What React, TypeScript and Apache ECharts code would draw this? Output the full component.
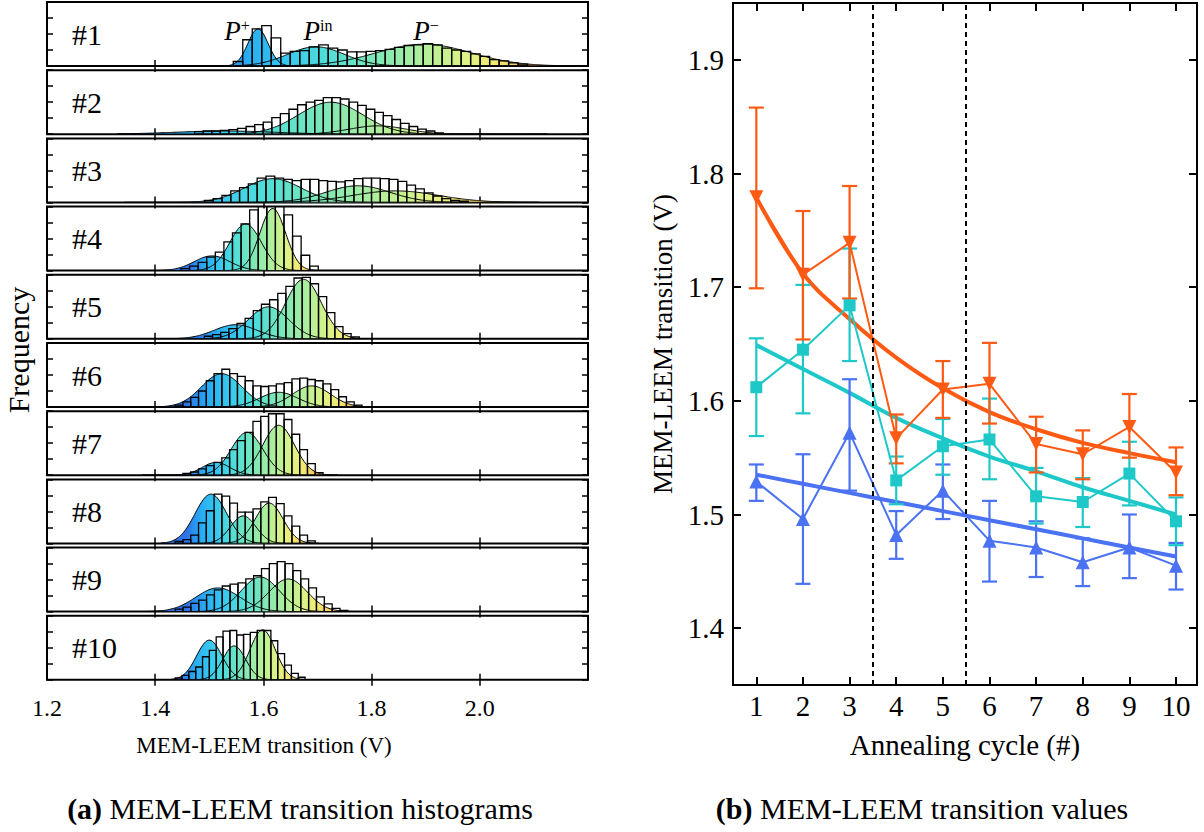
import React, { useEffect, useRef } from 'react';
import * as echarts from 'echarts';

const FONT = '"Liberation Serif", "Times New Roman", serif';
const BLACK = '#000';

// ---------------- (a) histogram panels ----------------
const panelNames = ['#1', '#2', '#3', '#4', '#5', '#6', '#7', '#8', '#9', '#10'];
const xTickValues = [1.4, 1.6, 1.8, 2.0];
const xLabelValues = [1.2, 1.4, 1.6, 1.8, 2.0];

// bin start (V) and bin width (V) for each panel, read against the bottom axis
const binStarts = [1.5443, 1.4728, 1.4909, 1.4477, 1.4909, 1.4369, 1.4512, 1.4369, 1.4369, 1.4369];
const binWidths = [0.01755, 0.01586, 0.01626, 0.01586, 0.01507, 0.01439, 0.01439, 0.01439, 0.01451, 0.01264];

// bin heights (fraction of panel height)
const hist1 = [0.07, 0.41, 0.58, 0.63, 0.44, 0.2, 0.23, 0.24, 0.3, 0.33, 0.28, 0.25, 0.22, 0.22, 0.23, 0.24, 0.26, 0.29, 0.32, 0.33, 0.35, 0.33, 0.28, 0.25, 0.23, 0.19, 0.15, 0.1, 0.08, 0.05, 0.03];
const hist2 = [0.04, 0.05, 0.05, 0.06, 0.07, 0.09, 0.12, 0.15, 0.19, 0.26, 0.32, 0.39, 0.46, 0.5, 0.53, 0.57, 0.57, 0.55, 0.5, 0.45, 0.39, 0.34, 0.29, 0.23, 0.17, 0.12, 0.08, 0.05, 0.02];
const hist3 = [0.03, 0.06, 0.11, 0.18, 0.23, 0.29, 0.38, 0.41, 0.38, 0.36, 0.34, 0.36, 0.36, 0.34, 0.33, 0.32, 0.34, 0.37, 0.38, 0.38, 0.37, 0.36, 0.33, 0.27, 0.21, 0.15, 0.1, 0.06, 0.03, 0.02];
const hist4 = [0.03, 0.07, 0.13, 0.21, 0.29, 0.45, 0.59, 0.73, 0.95, 1.1, 1.1, 1.05, 0.87, 0.54, 0.24, 0.07];
const hist5 = [0.04, 0.065, 0.1, 0.16, 0.24, 0.32, 0.44, 0.54, 0.61, 0.71, 0.82, 0.95, 0.96, 0.86, 0.66, 0.41, 0.19, 0.08, 0.03];
const hist6 = [0.03, 0.08, 0.15, 0.25, 0.41, 0.52, 0.59, 0.52, 0.48, 0.41, 0.33, 0.32, 0.33, 0.36, 0.38, 0.44, 0.45, 0.43, 0.41, 0.36, 0.27, 0.16, 0.08, 0.03];
const hist7 = [0.03, 0.05, 0.1, 0.15, 0.2, 0.27, 0.4, 0.54, 0.67, 0.84, 0.92, 0.96, 0.96, 0.87, 0.64, 0.4, 0.18, 0.04];
const hist8 = [0.03, 0.06, 0.13, 0.32, 0.51, 0.77, 0.74, 0.63, 0.49, 0.49, 0.54, 0.65, 0.72, 0.62, 0.43, 0.27, 0.13, 0.04];
const hist9 = [0.04, 0.07, 0.13, 0.18, 0.26, 0.34, 0.4, 0.43, 0.45, 0.51, 0.56, 0.67, 0.75, 0.78, 0.75, 0.64, 0.51, 0.37, 0.23, 0.12, 0.05, 0.02];
const hist10 = [0.03, 0.07, 0.13, 0.2, 0.36, 0.46, 0.67, 0.76, 0.77, 0.7, 0.71, 0.74, 0.77, 0.77, 0.61, 0.41, 0.23, 0.1, 0.04];
const histograms = [hist1, hist2, hist3, hist4, hist5, hist6, hist7, hist8, hist9, hist10];

// fitted gaussian components: [centre (V), sigma (V), amplitude]
const fit1 = [[1.59, 0.0187, 0.58], [1.6973, 0.0527, 0.3], [1.8962, 0.0878, 0.34]];
const fit2 = [[1.5287, 0.0925, 0.05], [1.7244, 0.0595, 0.5], [1.8116, 0.0529, 0.13]];
const fit3 = [[1.6173, 0.0529, 0.37], [1.7746, 0.0595, 0.26], [1.8446, 0.0793, 0.18]];
const fit4 = [[1.5049, 0.033, 0.23], [1.5671, 0.0291, 0.73], [1.6173, 0.0238, 0.97]];
const fit5 = [[1.5486, 0.0397, 0.22], [1.6094, 0.037, 0.5], [1.6741, 0.033, 0.93]];
const fit6 = [[1.5229, 0.0374, 0.52], [1.6282, 0.0351, 0.23], [1.6891, 0.0351, 0.33]];
const fit7 = [[1.5124, 0.0257, 0.2], [1.5697, 0.0293, 0.67], [1.6282, 0.0293, 0.78]];
const fit8 = [[1.503, 0.0293, 0.77], [1.5627, 0.0234, 0.43], [1.6107, 0.0257, 0.63]];
const fit9 = [[1.5159, 0.041, 0.37], [1.5943, 0.0351, 0.54], [1.6458, 0.0351, 0.51]];
const fit10 = [[1.5, 0.0234, 0.62], [1.546, 0.0211, 0.53], [1.5986, 0.0234, 0.78]];
const fits = [fit1, fit2, fit3, fit4, fit5, fit6, fit7, fit8, fit9, fit10];
const fitRanges = [[1.4691, 2.1711], [1.3305, 2.1236], [1.3437, 2.1104], [1.3701, 1.7138], [1.4098, 1.8195], [1.3053, 1.8201], [1.3755, 1.7382], [1.4106, 1.7031], [1.3872, 1.7733], [1.3872, 1.7031]];

// ---------------- (b) transition values ----------------
const cycles = [1, 2, 3, 4, 5, 6, 7, 8, 9, 10];
const rightYTicks = [1.4, 1.5, 1.6, 1.7, 1.8, 1.9];
const dividers = [3.5, 5.5];
const pMinus = [1.779, 1.711, 1.739, 1.567, 1.61, 1.615, 1.562, 1.553, 1.577, 1.537];
const pMinusLo = [1.699, 1.654, 1.69, 1.545, 1.585, 1.58, 1.537, 1.531, 1.55, 1.517];
const pMinusHi = [1.858, 1.767, 1.789, 1.588, 1.635, 1.651, 1.586, 1.574, 1.606, 1.559];
const pMinusFit = [1.779, 1.712, 1.672, 1.638, 1.611, 1.59, 1.575, 1.563, 1.554, 1.546];
const pIn = [1.612, 1.645, 1.684, 1.53, 1.56, 1.566, 1.516, 1.511, 1.536, 1.494];
const pInLo = [1.569, 1.589, 1.635, 1.509, 1.535, 1.531, 1.492, 1.489, 1.508, 1.473];
const pInHi = [1.655, 1.702, 1.734, 1.551, 1.584, 1.602, 1.541, 1.532, 1.564, 1.515];
const pInFit = [1.649, 1.628, 1.607, 1.585, 1.567, 1.551, 1.538, 1.524, 1.512, 1.5];
const pPlus = [1.529, 1.496, 1.572, 1.482, 1.521, 1.477, 1.471, 1.458, 1.471, 1.455];
const pPlusLo = [1.512, 1.439, 1.521, 1.461, 1.496, 1.441, 1.445, 1.437, 1.444, 1.434];
const pPlusHi = [1.544, 1.553, 1.619, 1.503, 1.544, 1.512, 1.494, 1.479, 1.5, 1.475];
const pPlusFit = [1.535, 1.527, 1.519, 1.511, 1.503, 1.495, 1.487, 1.479, 1.471, 1.463];

// ---------------- styles / layout ----------------
const ORANGE = '#ff5a14';
const CYAN = '#1ec8c8';
const BLUE = '#4a72f2';
const fillStops = [
  [0.0, '#2f72e6'], [0.06, '#2a92f0'], [0.12, '#28aef2'], [0.22, '#36c6f0'], [0.32, '#4cdcdc'],
  [0.42, '#6ae4c4'], [0.52, '#90eaac'], [0.62, '#b6f098'], [0.72, '#dcf286'], [0.8, '#f2ea74'],
  [0.88, '#f4c65a'], [0.95, '#f29642'], [1.0, '#ee6c32'],
];
const colorRanges = [[1.4925, 2.1594], [1.3437, 2.1236], [1.3437, 2.1104], [1.4626, 1.7138], [1.4759, 1.8195], [1.4574, 1.8084], [1.4574, 1.7265], [1.4574, 1.7031], [1.4574, 1.7616], [1.4457, 1.6914]];
const LEFT_X = 47, LEFT_W = 541, TOP0 = 2, PITCH = 68.2, PH = 64;
const R_LEFT = 733, R_TOP = 3, R_W = 464, R_H = 682;

function gaussRender(range: number[], cRange: number[], mode: 'fill' | 'line') {
  return (params: any, api: any) => {
    const mu = api.value(0), sd = api.value(1), amp = api.value(2);
    const pts: number[][] = [];
    const n = Math.round((range[1] - range[0]) / 0.002);
    for (let k = 0; k <= n; k++) {
      const x = range[0] + k * 0.002;
      const y = amp * Math.exp(-((x - mu) * (x - mu)) / (2 * sd * sd));
      pts.push(api.coord([x, y]));
    }
    if (mode === 'fill') {
      const b0 = api.coord([range[0], 0]);
      const b1 = api.coord([range[1], 0]);
      const c0 = api.coord([cRange[0], 0])[0];
      const c1 = api.coord([cRange[1], 0])[0];
      const grad = new echarts.graphic.LinearGradient(c0, 0, c1, 0,
        fillStops.map(([o, c]) => ({ offset: o as number, color: c as string })), true);
      return { type: 'polygon', shape: { points: [b0, ...pts, b1] }, style: { fill: grad, stroke: null } };
    }
    return { type: 'polyline', shape: { points: pts }, style: { stroke: BLACK, lineWidth: 1, fill: null } };
  };
}

function barRender(params: any, api: any) {
  const p0 = api.coord([api.value(0), api.value(2)]);
  const p1 = api.coord([api.value(1), 0]);
  return {
    type: 'rect',
    shape: { x: p0[0], y: p0[1], width: p1[0] - p0[0], height: p1[1] - p0[1] },
    style: { fill: 'rgba(255,255,255,0)', stroke: BLACK, lineWidth: 1.3 },
  };
}

function errRender(color: string) {
  return (params: any, api: any) => {
    const x = api.value(0);
    const lo = api.coord([x, api.value(1)]);
    const hi = api.coord([x, api.value(2)]);
    const cw = 7.5;
    const st = { stroke: color, lineWidth: 2.2 };
    return {
      type: 'group',
      children: [
        { type: 'line', shape: { x1: lo[0], y1: lo[1], x2: hi[0], y2: hi[1] }, style: st },
        { type: 'line', shape: { x1: lo[0] - cw, y1: lo[1], x2: lo[0] + cw, y2: lo[1] }, style: st },
        { type: 'line', shape: { x1: hi[0] - cw, y1: hi[1], x2: hi[0] + cw, y2: hi[1] }, style: st },
      ],
    };
  };
}

function buildOption() {
  const grids: any[] = [];
  const xAxes: any[] = [];
  const yAxes: any[] = [];
  const series: any[] = [];
  const graphics: any[] = [];
  const tickStyle = { color: BLACK, width: 1.5 };

  for (let i = 0; i < 10; i++) {
    const top = TOP0 + i * PITCH;
    grids.push({ left: LEFT_X, top, width: LEFT_W, height: PH, show: true, borderColor: BLACK, borderWidth: 2, backgroundColor: 'rgba(0,0,0,0)', containLabel: false, outerBoundsMode: 'none' });
    xAxes.push({
      type: 'value', gridIndex: i, min: 1.2, max: 2.2, position: 'bottom',
      axisLine: { show: false }, splitLine: { show: false },
      axisTick: { show: true, inside: true, length: 6, lineStyle: tickStyle, customValues: xTickValues },
      axisLabel: { show: i === 9, customValues: xLabelValues, formatter: (v: number) => v.toFixed(1), color: BLACK, fontFamily: FONT, fontSize: 24, margin: 16 },
    });
    xAxes.push({
      type: 'value', gridIndex: i, min: 1.2, max: 2.2, position: 'top',
      axisLine: { show: false }, splitLine: { show: false }, axisLabel: { show: false },
      axisTick: { show: true, inside: true, length: 6, lineStyle: tickStyle, customValues: xTickValues },
    });
    for (const pos of ['left', 'right']) {
      yAxes.push({
        type: 'value', gridIndex: i, min: 0, max: 1, interval: 0.25, position: pos,
        axisLine: { show: false }, splitLine: { show: false }, axisLabel: { show: false },
        axisTick: { show: true, inside: true, length: 6, lineStyle: tickStyle },
      });
    }
    const bins = histograms[i].map((h, k) => [binStarts[i] + k * binWidths[i], binStarts[i] + (k + 1) * binWidths[i], h]);
    series.push({
      type: 'custom', name: 'fill' + i, xAxisIndex: 2 * i, yAxisIndex: 2 * i, z: 1, clip: true,
      renderItem: gaussRender(fitRanges[i], colorRanges[i], 'fill'), data: fits[i], encode: { x: 0, y: 2 }, silent: true,
    });
    series.push({
      type: 'custom', name: 'hist' + i, xAxisIndex: 2 * i, yAxisIndex: 2 * i, z: 3, clip: true,
      renderItem: barRender, data: bins, encode: { x: [0, 1], y: 2 }, silent: true,
    });
    series.push({
      type: 'custom', name: 'curve' + i, xAxisIndex: 2 * i, yAxisIndex: 2 * i, z: 4, clip: true,
      renderItem: gaussRender(fitRanges[i], colorRanges[i], 'line'), data: fits[i], encode: { x: 0, y: 2 }, silent: true,
    });
    graphics.push({
      type: 'text', x: 72, y: top + PH / 2, z: 10,
      style: { text: panelNames[i], font: `30px ${FONT}`, fill: BLACK, align: 'left', verticalAlign: 'middle' },
    });
  }

  // right panel
  grids.push({ left: R_LEFT, top: R_TOP, width: R_W, height: R_H, show: true, borderColor: BLACK, borderWidth: 2, backgroundColor: 'rgba(0,0,0,0)', containLabel: false, outerBoundsMode: 'none' });
  const rTick = { color: BLACK, width: 2 };
  xAxes.push({
    type: 'value', gridIndex: 10, min: 0.5, max: 10.45, position: 'bottom',
    axisLine: { show: false }, splitLine: { show: false },
    axisTick: { show: true, inside: true, length: 8, lineStyle: rTick, customValues: cycles },
    axisLabel: { customValues: cycles, color: BLACK, fontFamily: FONT, fontSize: 29, margin: 6 },
  });
  xAxes.push({
    type: 'value', gridIndex: 10, min: 0.5, max: 10.45, position: 'top',
    axisLine: { show: false }, splitLine: { show: false }, axisLabel: { show: false },
    axisTick: { show: true, inside: true, length: 8, lineStyle: rTick, customValues: cycles },
  });
  yAxes.push({
    type: 'value', gridIndex: 10, min: 1.35, max: 1.95, position: 'left',
    axisLine: { show: false }, splitLine: { show: false },
    axisTick: { show: true, inside: true, length: 8, lineStyle: rTick, customValues: rightYTicks },
    axisLabel: { customValues: rightYTicks, formatter: (v: number) => v.toFixed(1), color: BLACK, fontFamily: FONT, fontSize: 29, margin: 9 },
  });
  yAxes.push({
    type: 'value', gridIndex: 10, min: 1.35, max: 1.95, position: 'right',
    axisLine: { show: false }, splitLine: { show: false }, axisLabel: { show: false },
    axisTick: { show: true, inside: true, length: 8, lineStyle: rTick, customValues: rightYTicks },
  });

  const groups = [
    { name: 'P+', color: BLUE, v: pPlus, lo: pPlusLo, hi: pPlusHi, fit: pPlusFit, symbol: 'triangle', rot: 0, size: 14 },
    { name: 'Pin', color: CYAN, v: pIn, lo: pInLo, hi: pInHi, fit: pInFit, symbol: 'rect', rot: 0, size: 12 },
    { name: 'P-', color: ORANGE, v: pMinus, lo: pMinusLo, hi: pMinusHi, fit: pMinusFit, symbol: 'triangle', rot: 180, size: 14 },
  ];
  series.push({
    type: 'line', name: 'dividers', xAxisIndex: 20, yAxisIndex: 20, data: [[1, 1.0]], showSymbol: false, lineStyle: { width: 0 }, silent: true,
    markLine: {
      silent: true, symbol: ['none', 'none'], label: { show: false },
      lineStyle: { color: BLACK, width: 2, type: [5, 4] },
      data: dividers.map((d) => ({ xAxis: d })),
    },
  });
  for (const g of groups) {
    series.push({
      type: 'custom', name: g.name + ' err', xAxisIndex: 20, yAxisIndex: 20, z: 3,
      renderItem: errRender(g.color), data: cycles.map((c, k) => [c, g.lo[k], g.hi[k]]), encode: { x: 0, y: [1, 2] }, silent: true,
    });
    series.push({
      type: 'line', name: g.name + ' fit', xAxisIndex: 20, yAxisIndex: 20, z: 2, smooth: 0.4, showSymbol: false,
      data: cycles.map((c, k) => [c, g.fit[k]]), lineStyle: { color: g.color, width: 4 }, silent: true,
    });
    series.push({
      type: 'line', name: g.name, xAxisIndex: 20, yAxisIndex: 20, z: 4,
      data: cycles.map((c, k) => [c, g.v[k]]), symbol: g.symbol, symbolRotate: g.rot, symbolSize: g.size,
      lineStyle: { color: g.color, width: 2 }, itemStyle: { color: g.color }, silent: true,
    });
  }

  // texts
  const t = (text: string, x: number, y: number, extra: any = {}) => ({
    type: 'text', x, y, z: 10, rotation: extra.rotation || 0,
    style: { text, font: `${extra.size || 24}px ${FONT}`, fill: BLACK, align: 'center', verticalAlign: 'middle', ...(extra.style || {}) },
  });
  graphics.push(t('Frequency', 18, 350, { rotation: Math.PI / 2, size: 30 }));
  graphics.push(t('MEM-LEEM transition (V)', 264, 745, { size: 23 }));
  graphics.push(t('MEM-LEEM transition (V)', 663, 344, { rotation: Math.PI / 2, size: 27 }));
  graphics.push(t('Annealing cycle (#)', 965, 745, { size: 29 }));
  const capRich = { b: { fontWeight: 'bold', fontFamily: FONT, fontSize: 30 } };
  graphics.push(t('{b|(a)} MEM-LEEM transition histograms', 300, 808, { size: 30, style: { rich: capRich } }));
  graphics.push(t('{b|(b)} MEM-LEEM transition values', 922, 808, { size: 30, style: { rich: capRich } }));
  const pRich = {
    i: { fontStyle: 'italic', fontFamily: FONT, fontSize: 27 },
    s: { fontFamily: FONT, fontSize: 16, verticalAlign: 'top' },
  };
  graphics.push(t('{i|P}{s|+}', 237, 31, { style: { rich: pRich } }));
  graphics.push(t('{i|P}{s|in}', 318, 31, { style: { rich: pRich } }));
  graphics.push(t('{i|P}{s|\u2212}', 426, 31, { style: { rich: pRich } }));

  return {
    animation: false,
    backgroundColor: '#fff',
    textStyle: { fontFamily: FONT },
    grid: grids,
    xAxis: xAxes,
    yAxis: yAxes,
    series,
    graphic: graphics,
  };
}

export default function App() {
  const ref = useRef<HTMLDivElement>(null);
  useEffect(() => {
    if (!ref.current) return;
    const chart = echarts.init(ref.current, undefined, { renderer: 'svg' });
    chart.setOption(buildOption() as any);
    return () => chart.dispose();
  }, []);
  return (
    <div
      ref={ref}
      style={{ position: 'fixed', left: 0, top: 0, width: 1204, height: 832, background: '#fff' }}
    />
  );
}
